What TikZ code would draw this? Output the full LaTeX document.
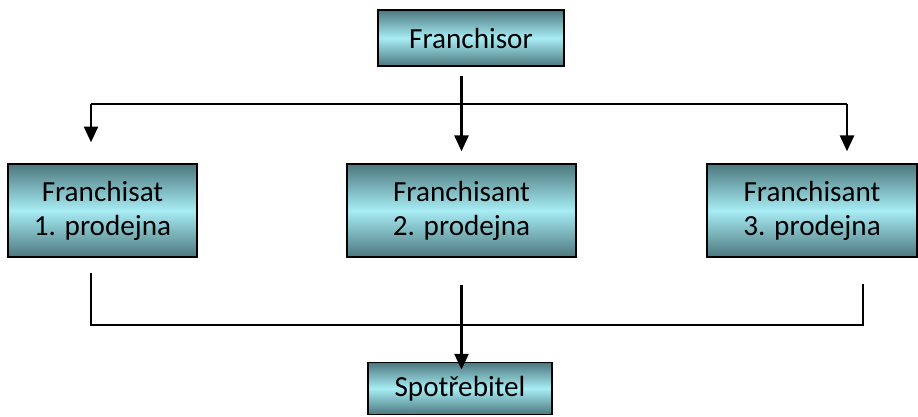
\documentclass[tikz,border=0pt]{standalone}
\usepackage{fontspec}
\setmainfont{Carlito}
\usepackage{tikz}
\usetikzlibrary{arrows.meta}
\definecolor{TealDark}{RGB}{76,120,126}
\definecolor{TealLight}{RGB}{168,236,244}

\tikzset{
  firmbox/.style={
    draw=black,
    line width=0.9pt,
    top color=TealDark,
    bottom color=TealDark,
    middle color=TealLight,
    align=center,
    inner sep=2pt,
    font=\fontsize{16.6}{19.5}\selectfont
  },
  link/.style={line width=1.3pt},
  arr/.style={link, -{Triangle[width=8pt,length=9pt]}}
}

\begin{document}
\begin{tikzpicture}[x=0.02cm,y=-0.02cm]
  \useasboundingbox (0,0) rectangle (918,416);

  % boxes
  \node[firmbox, minimum width=3.72cm, minimum height=1.12cm] (fr) at (471,38) {Franchisor};
  \node[firmbox, minimum width=3.78cm, minimum height=1.86cm] (p1) at (102.5,210.5) {Franchisat\\1. prodejna};
  \node[firmbox, minimum width=4.58cm, minimum height=1.86cm] (p2) at (461.5,210.5) {Franchisant\\2. prodejna};
  \node[firmbox, minimum width=4.2cm, minimum height=1.86cm] (p3) at (812,210.5) {Franchisant\\3. prodejna};
  \node[firmbox, minimum width=3.68cm, minimum height=1.04cm] (sp) at (460,388.5) {Spot\v{r}ebitel};

  % split from franchisor
  \coordinate (split-l) at (91,104);
  \coordinate (split-r) at (847,104);
  \draw[link] (split-l) -- (split-r);
  \draw[arr, shorten >=11.9pt] (split-l) -- (split-l |- p1.north);
  \draw[arr, shorten >=6.8pt] (split-r) -- (split-r |- p3.north);
  \draw[arr, shorten <=5pt, shorten >=6.8pt] (fr.south -| p2) -- (p2.north);

  % join to consumer
  \coordinate (join-l) at (91,325);
  \coordinate (join-r) at (863,325);
  \draw[link] (join-l |- p1.south) ++(0,15) -- (join-l) -- (join-r) -- ++(0,-41);
  \draw[arr, shorten <=15.3pt, shorten >=-4.5pt] (p2.south) -- (p2.south |- sp.north);
\end{tikzpicture}
\end{document}
